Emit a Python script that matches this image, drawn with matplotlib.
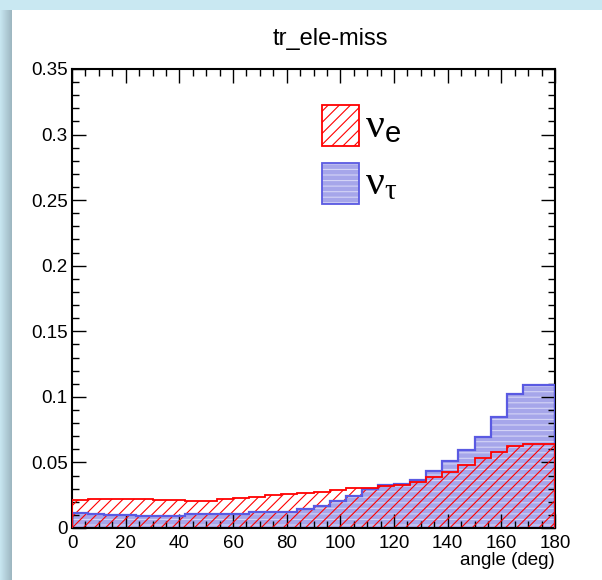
import numpy as np
import matplotlib
matplotlib.use("Agg")
import matplotlib.pyplot as plt
from matplotlib.patches import Rectangle
from matplotlib.ticker import MultipleLocator, FuncFormatter

# ---- data: normalised angle distributions, 30 bins of 6 degrees ----
bin_edges = np.linspace(0, 180, 31)

nu_e = [0.0214, 0.0218, 0.0220, 0.0220, 0.0218, 0.0215, 0.0212, 0.0207,
        0.0206, 0.0219, 0.0229, 0.0239, 0.0249, 0.0257, 0.0264, 0.0276,
        0.0290, 0.0305, 0.0305, 0.0320, 0.0328, 0.0353, 0.0390, 0.0428,
        0.0480, 0.0533, 0.0582, 0.0623, 0.0640, 0.0642]

nu_tau = [0.0115, 0.0110, 0.0100, 0.0098, 0.0090, 0.0090, 0.0095, 0.0105,
          0.0107, 0.0107, 0.0107, 0.0122, 0.0122, 0.0122, 0.0142, 0.0168,
          0.0203, 0.0247, 0.0300, 0.0328, 0.0336, 0.0366, 0.0437, 0.0513,
          0.0595, 0.0697, 0.0845, 0.1025, 0.1093, 0.1093]

title = "tr_ele-miss"
x_title = "angle (deg)"
legend_labels = [r"$\mathrm{ν}_{\mathsf{e}}$", r"$\mathrm{ν}_{\mathrm{τ}}$"]

RED = "#ff0000"
BLUE_EDGE = "#5a5ae2"
BLUE_FILL = "#a6a6ea"
BLUE_LINES = "#d4d4f6"

plt.rcParams.update({
    "font.family": ["Liberation Sans", "DejaVu Sans"],
    "mathtext.fontset": "custom",
    "mathtext.rm": "Liberation Serif",
    "mathtext.it": "Liberation Serif:italic",
    "mathtext.sf": "Liberation Sans",
    "hatch.linewidth": 0.8,
})

W, H = 602, 580
fig = plt.figure(figsize=(W / 100, H / 100), dpi=100)

# window-like backdrop: pale blue band on top, shaded strip on the left
bg_img = np.ones((H, W, 3))
bg_img[:10, :] = (0.79, 0.91, 0.95)
left_a = np.array([0.78, 0.90, 0.94])
left_b = np.array([0.62, 0.72, 0.76])
for j in range(12):
    t = j / 11
    bg_img[10:, j] = (1 - t) * left_a + t * left_b
bg = fig.add_axes([0, 0, 1, 1], zorder=-5)
bg.imshow(bg_img, aspect="auto", interpolation="nearest")
bg.axis("off")

ax = fig.add_axes([72 / W, 1 - 528 / H, 483 / W, 459 / H])
ax.set_facecolor("white")

# nu_tau: filled histogram with light line texture
ax.stairs(nu_tau, bin_edges, baseline=0, fill=True, facecolor=BLUE_FILL,
          edgecolor="none", linewidth=0, zorder=1)
ax.stairs(nu_tau, bin_edges, baseline=0, fill=True, facecolor="none",
          edgecolor=BLUE_LINES, hatch="---", linewidth=0, zorder=1.1)
# nu_e: hatched histogram
ax.stairs(nu_e, bin_edges, baseline=0, fill=True, facecolor="none",
          edgecolor=RED, hatch="///", linewidth=0, zorder=2)
# outlines
ax.stairs(nu_tau, bin_edges, baseline=0, fill=False, edgecolor=BLUE_EDGE,
          linewidth=1.6, zorder=3)
ax.stairs(nu_e, bin_edges, baseline=0, fill=False, edgecolor=RED,
          linewidth=1.3, zorder=3.1)

ax.set_xlim(0, 180)
ax.set_ylim(0, 0.35)
ax.xaxis.set_major_locator(MultipleLocator(20))
ax.xaxis.set_minor_locator(MultipleLocator(5))
ax.yaxis.set_major_locator(MultipleLocator(0.05))
ax.yaxis.set_minor_locator(MultipleLocator(0.01))
ax.yaxis.set_major_formatter(FuncFormatter(lambda v, p: f"{v:g}"))
ax.tick_params(which="both", direction="in", top=True, right=True,
               width=1.0, colors="black", labelsize=13.5)
ax.tick_params(which="major", length=10)
ax.tick_params(which="minor", length=5)
ax.tick_params(axis="x", pad=5)
ax.tick_params(axis="y", pad=3)
for sp in ax.spines.values():
    sp.set_linewidth(1.5)

ax.text(1.0, -(565 - 528) / 459, x_title, transform=ax.transAxes,
        ha="right", va="baseline", fontsize=13.5)
fig.text(330 / W, 1 - 45 / H, title, ha="center", va="baseline", fontsize=17)

# legend entries
box_x0, box_w = 249.7 / 483, 37.6 / 483
rows = [(1 - (146 - 69) / 459, 1 - (137 - 69) / 459),
        (1 - (204 - 69) / 459, 1 - (194 - 69) / 459)]
box_h = 41 / 459
styles = [dict(facecolor="none", edgecolor=RED, hatch="///"),
          dict(facecolor=BLUE_FILL, edgecolor=BLUE_LINES, hatch="---")]
outline = [RED, BLUE_EDGE]
for (y0, base), st, oc, lab in zip(rows, styles, outline, legend_labels):
    ax.add_patch(Rectangle((box_x0, y0), box_w, box_h, transform=ax.transAxes,
                           linewidth=0, zorder=4, **st))
    ax.add_patch(Rectangle((box_x0, y0), box_w, box_h, transform=ax.transAxes,
                           facecolor="none", edgecolor=oc, linewidth=1.3,
                           zorder=4.1))
    ax.text(box_x0 + box_w + 6 / 483, base, lab, transform=ax.transAxes,
            ha="left", va="baseline", fontsize=30)

fig.savefig("out.png", dpi=100)
